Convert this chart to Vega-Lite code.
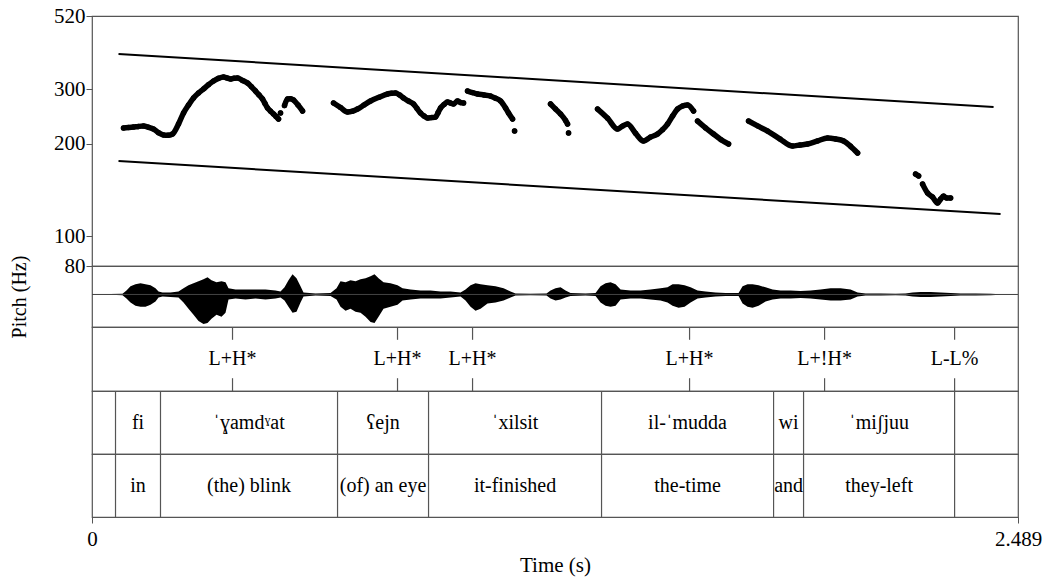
{
  "$schema": "https://vega.github.io/schema/vega-lite/v6.json",
  "background": "white",
  "padding": {"left": 8, "top": 4, "right": 0, "bottom": 2},
  "spacing": 0,
  "bounds": "flush",
  "config": {
    "view": {"stroke": "#555", "strokeWidth": 1.2},
    "font": "Liberation Serif",
    "text": {"font": "Liberation Serif"},
    "axis": {"labelFont": "Liberation Serif", "titleFont": "Liberation Serif", "labelColor": "black", "titleColor": "black", "titleFontWeight": "normal", "grid": false}
  },
  "datasets": {
    "decl": [
      {"line": "top", "t": 0.0712, "hz": 391.2},
      {"line": "top", "t": 2.4234, "hz": 263.0},
      {"line": "bottom", "t": 0.0712, "hz": 175.5},
      {"line": "bottom", "t": 2.4422, "hz": 118}
    ],
    "pitch": [
      {"seg": "1", "t": 0.0847, "hz": 224.7}, {"seg": "1", "t": 0.0981, "hz": 225.5}, {"seg": "1", "t": 0.1116, "hz": 226.4}, {"seg": "1", "t": 0.125, "hz": 227.5}, {"seg": "1", "t": 0.1384, "hz": 228.1}, {"seg": "1", "t": 0.1519, "hz": 226}, {"seg": "1", "t": 0.1653, "hz": 223.0}, {"seg": "1", "t": 0.1788, "hz": 217}, {"seg": "1", "t": 0.1922, "hz": 213.3}, {"seg": "1", "t": 0.2043, "hz": 213}, {"seg": "1", "t": 0.2164, "hz": 214.9}, {"seg": "1", "t": 0.2325, "hz": 231.6}, {"seg": "1", "t": 0.246, "hz": 251.5}, {"seg": "1", "t": 0.2594, "hz": 267}, {"seg": "1", "t": 0.2728, "hz": 281.4}, {"seg": "1", "t": 0.2863, "hz": 292}, {"seg": "1", "t": 0.2997, "hz": 301.0}, {"seg": "1", "t": 0.3132, "hz": 311}, {"seg": "1", "t": 0.3266, "hz": 319.6}, {"seg": "1", "t": 0.34, "hz": 326}, {"seg": "1", "t": 0.3535, "hz": 329.3}, {"seg": "1", "t": 0.3629, "hz": 327}, {"seg": "1", "t": 0.3723, "hz": 324.4}, {"seg": "1", "t": 0.3817, "hz": 326.5}, {"seg": "1", "t": 0.3911, "hz": 326.8}, {"seg": "1", "t": 0.4046, "hz": 321}, {"seg": "1", "t": 0.418, "hz": 314.8}, {"seg": "1", "t": 0.4288, "hz": 306}, {"seg": "1", "t": 0.4395, "hz": 296.5}, {"seg": "1", "t": 0.4489, "hz": 288}, {"seg": "1", "t": 0.4583, "hz": 279.3}, {"seg": "1", "t": 0.465, "hz": 270}, {"seg": "1", "t": 0.4718, "hz": 261.1}, {"seg": "1", "t": 0.4799, "hz": 255}, {"seg": "1", "t": 0.4879, "hz": 249.6}, {"seg": "1", "t": 0.4946, "hz": 245}, {"seg": "1", "t": 0.5013, "hz": 240.4},
      {"seg": "2a", "t": 0.5067, "hz": 251.5},
      {"seg": "2", "t": 0.5175, "hz": 266}, {"seg": "2", "t": 0.5255, "hz": 279.3}, {"seg": "2", "t": 0.5336, "hz": 280}, {"seg": "2", "t": 0.5417, "hz": 277.2}, {"seg": "2", "t": 0.5538, "hz": 267}, {"seg": "2", "t": 0.5659, "hz": 255.3},
      {"seg": "3", "t": 0.6492, "hz": 271.0}, {"seg": "3", "t": 0.668, "hz": 262}, {"seg": "3", "t": 0.6868, "hz": 253.4}, {"seg": "3", "t": 0.7003, "hz": 255}, {"seg": "3", "t": 0.7137, "hz": 259.1}, {"seg": "3", "t": 0.7312, "hz": 267}, {"seg": "3", "t": 0.7487, "hz": 275.1}, {"seg": "3", "t": 0.7716, "hz": 283}, {"seg": "3", "t": 0.7944, "hz": 289.9}, {"seg": "3", "t": 0.8051, "hz": 291.5}, {"seg": "3", "t": 0.8159, "hz": 292.1}, {"seg": "3", "t": 0.8266, "hz": 288}, {"seg": "3", "t": 0.8374, "hz": 281.4}, {"seg": "3", "t": 0.8508, "hz": 275}, {"seg": "3", "t": 0.8642, "hz": 269.0}, {"seg": "3", "t": 0.8737, "hz": 260}, {"seg": "3", "t": 0.8831, "hz": 251.5}, {"seg": "3", "t": 0.8925, "hz": 246}, {"seg": "3", "t": 0.9019, "hz": 242.2}, {"seg": "3", "t": 0.9127, "hz": 243}, {"seg": "3", "t": 0.9234, "hz": 244.0}, {"seg": "3", "t": 0.9301, "hz": 252}, {"seg": "3", "t": 0.9368, "hz": 261.1}, {"seg": "3", "t": 0.9462, "hz": 268}, {"seg": "3", "t": 0.9556, "hz": 273.0}, {"seg": "3", "t": 0.9637, "hz": 271}, {"seg": "3", "t": 0.9718, "hz": 269.0}, {"seg": "3", "t": 0.9825, "hz": 275.1}, {"seg": "3", "t": 0.9906, "hz": 272}, {"seg": "3", "t": 0.9987, "hz": 271.0},
      {"seg": "4", "t": 1.0094, "hz": 296.5}, {"seg": "4", "t": 1.0228, "hz": 293}, {"seg": "4", "t": 1.0363, "hz": 289.9}, {"seg": "4", "t": 1.0537, "hz": 288}, {"seg": "4", "t": 1.0712, "hz": 285.6}, {"seg": "4", "t": 1.0847, "hz": 281}, {"seg": "4", "t": 1.0981, "hz": 275.1}, {"seg": "4", "t": 1.1116, "hz": 261.1}, {"seg": "4", "t": 1.1196, "hz": 251.5}, {"seg": "4", "t": 1.1304, "hz": 240.4},
      {"seg": "4b", "t": 1.1358, "hz": 219.7},
      {"seg": "5", "t": 1.2325, "hz": 269.0}, {"seg": "5", "t": 1.246, "hz": 259}, {"seg": "5", "t": 1.2594, "hz": 249.6}, {"seg": "5", "t": 1.2728, "hz": 238}, {"seg": "5", "t": 1.2782, "hz": 231.6},
      {"seg": "5b", "t": 1.2809, "hz": 216.5},
      {"seg": "6", "t": 1.3589, "hz": 259.1}, {"seg": "6", "t": 1.3858, "hz": 242}, {"seg": "6", "t": 1.4126, "hz": 223.0}, {"seg": "6", "t": 1.4261, "hz": 228}, {"seg": "6", "t": 1.4395, "hz": 231.6}, {"seg": "6", "t": 1.461, "hz": 216}, {"seg": "6", "t": 1.4825, "hz": 203.9}, {"seg": "6", "t": 1.5013, "hz": 210}, {"seg": "6", "t": 1.5202, "hz": 214.9}, {"seg": "6", "t": 1.5336, "hz": 222}, {"seg": "6", "t": 1.547, "hz": 231.6}, {"seg": "6", "t": 1.5605, "hz": 246}, {"seg": "6", "t": 1.5739, "hz": 259.1}, {"seg": "6", "t": 1.5874, "hz": 265}, {"seg": "6", "t": 1.6008, "hz": 267.0}, {"seg": "6", "t": 1.6169, "hz": 255.3},
      {"seg": "7", "t": 1.6277, "hz": 236.8}, {"seg": "7", "t": 1.6492, "hz": 225}, {"seg": "7", "t": 1.6707, "hz": 214.9}, {"seg": "7", "t": 1.6909, "hz": 206}, {"seg": "7", "t": 1.711, "hz": 199.4},
      {"seg": "8", "t": 1.7648, "hz": 236.8}, {"seg": "8", "t": 1.7903, "hz": 228}, {"seg": "8", "t": 1.8159, "hz": 219.7}, {"seg": "8", "t": 1.8495, "hz": 207}, {"seg": "8", "t": 1.8831, "hz": 196.4}, {"seg": "8", "t": 1.9032, "hz": 198}, {"seg": "8", "t": 1.9234, "hz": 199.4}, {"seg": "8", "t": 1.9503, "hz": 204}, {"seg": "8", "t": 1.9772, "hz": 208.5}, {"seg": "8", "t": 1.9987, "hz": 207}, {"seg": "8", "t": 2.0202, "hz": 203.9}, {"seg": "8", "t": 2.039, "hz": 196}, {"seg": "8", "t": 2.0578, "hz": 186.4},
      {"seg": "9", "t": 2.2137, "hz": 159.2}, {"seg": "9", "t": 2.2218, "hz": 157}, {"seg": "9b", "t": 2.2325, "hz": 147.7}, {"seg": "9b", "t": 2.246, "hz": 138.1}, {"seg": "9b", "t": 2.2594, "hz": 134}, {"seg": "9b", "t": 2.2728, "hz": 128.1}, {"seg": "9b", "t": 2.2809, "hz": 132}, {"seg": "9b", "t": 2.289, "hz": 135.0}, {"seg": "9b", "t": 2.297, "hz": 133}, {"seg": "9b", "t": 2.3078, "hz": 133.0}
    ],
    "wave": [
      {"t": 0.0013, "hi": 0.3, "lo": -0.3}, {"t": 0.0497, "hi": 0.4, "lo": -0.4}, {"t": 0.082, "hi": 0.8, "lo": -0.8}, {"t": 0.0927, "hi": 4, "lo": -4}, {"t": 0.1035, "hi": 8, "lo": -8}, {"t": 0.1169, "hi": 10, "lo": -11}, {"t": 0.1304, "hi": 11, "lo": -12}, {"t": 0.1438, "hi": 10, "lo": -12}, {"t": 0.1573, "hi": 9, "lo": -10}, {"t": 0.1707, "hi": 6, "lo": -7}, {"t": 0.1788, "hi": 3, "lo": -3}, {"t": 0.1895, "hi": 2, "lo": -2}, {"t": 0.211, "hi": 2, "lo": -2.5}, {"t": 0.2325, "hi": 3, "lo": -3}, {"t": 0.246, "hi": 6, "lo": -8}, {"t": 0.2594, "hi": 9, "lo": -14}, {"t": 0.2729, "hi": 11, "lo": -20}, {"t": 0.2863, "hi": 13, "lo": -26}, {"t": 0.2997, "hi": 15, "lo": -29}, {"t": 0.3105, "hi": 17, "lo": -28}, {"t": 0.3212, "hi": 14, "lo": -24}, {"t": 0.3347, "hi": 12, "lo": -20}, {"t": 0.3481, "hi": 13, "lo": -22}, {"t": 0.3589, "hi": 12, "lo": -18}, {"t": 0.3669, "hi": 6, "lo": -5}, {"t": 0.3858, "hi": 5, "lo": -4}, {"t": 0.4126, "hi": 5, "lo": -5}, {"t": 0.4395, "hi": 5, "lo": -4}, {"t": 0.4664, "hi": 5, "lo": -5}, {"t": 0.4933, "hi": 4, "lo": -4}, {"t": 0.5067, "hi": 3, "lo": -3}, {"t": 0.5175, "hi": 7, "lo": -6}, {"t": 0.5282, "hi": 14, "lo": -12}, {"t": 0.539, "hi": 20, "lo": -18}, {"t": 0.5497, "hi": 16, "lo": -17}, {"t": 0.5605, "hi": 8, "lo": -8}, {"t": 0.5685, "hi": 2, "lo": -2}, {"t": 0.6008, "hi": 1, "lo": -1}, {"t": 0.6411, "hi": 1.5, "lo": -1.5}, {"t": 0.6573, "hi": 6, "lo": -5}, {"t": 0.668, "hi": 13, "lo": -12}, {"t": 0.6815, "hi": 12, "lo": -16}, {"t": 0.6949, "hi": 14, "lo": -14}, {"t": 0.7083, "hi": 13, "lo": -17}, {"t": 0.7218, "hi": 15, "lo": -18}, {"t": 0.7352, "hi": 16, "lo": -22}, {"t": 0.7487, "hi": 18, "lo": -27}, {"t": 0.7594, "hi": 20, "lo": -28}, {"t": 0.7702, "hi": 16, "lo": -22}, {"t": 0.7836, "hi": 12, "lo": -14}, {"t": 0.8024, "hi": 11, "lo": -12}, {"t": 0.8212, "hi": 9, "lo": -10}, {"t": 0.8347, "hi": 6, "lo": -6}, {"t": 0.8562, "hi": 5, "lo": -5}, {"t": 0.8831, "hi": 4, "lo": -4}, {"t": 0.9099, "hi": 4, "lo": -4}, {"t": 0.9368, "hi": 3, "lo": -4}, {"t": 0.9637, "hi": 3, "lo": -3}, {"t": 0.9906, "hi": 2, "lo": -2}, {"t": 1.004, "hi": 5, "lo": -6}, {"t": 1.0175, "hi": 9, "lo": -12}, {"t": 1.0309, "hi": 11, "lo": -16}, {"t": 1.0444, "hi": 10, "lo": -14}, {"t": 1.0632, "hi": 9, "lo": -9}, {"t": 1.0847, "hi": 8, "lo": -8}, {"t": 1.1062, "hi": 6, "lo": -6}, {"t": 1.125, "hi": 3, "lo": -3}, {"t": 1.1384, "hi": 1, "lo": -1}, {"t": 1.1788, "hi": 0.8, "lo": -0.8}, {"t": 1.2218, "hi": 1, "lo": -1}, {"t": 1.2325, "hi": 4, "lo": -4}, {"t": 1.246, "hi": 6, "lo": -6}, {"t": 1.2594, "hi": 7, "lo": -5}, {"t": 1.2728, "hi": 4, "lo": -3}, {"t": 1.2863, "hi": 1.5, "lo": -1.5}, {"t": 1.3266, "hi": 1, "lo": -1}, {"t": 1.3535, "hi": 1.5, "lo": -1.5}, {"t": 1.3669, "hi": 8, "lo": -8}, {"t": 1.3804, "hi": 11, "lo": -11}, {"t": 1.3938, "hi": 12, "lo": -12}, {"t": 1.4073, "hi": 10, "lo": -11}, {"t": 1.4207, "hi": 5, "lo": -5}, {"t": 1.4476, "hi": 4, "lo": -4}, {"t": 1.4745, "hi": 4, "lo": -4}, {"t": 1.5013, "hi": 5, "lo": -5}, {"t": 1.5282, "hi": 6, "lo": -6}, {"t": 1.547, "hi": 7, "lo": -8}, {"t": 1.5605, "hi": 10, "lo": -11}, {"t": 1.5766, "hi": 10, "lo": -13}, {"t": 1.5927, "hi": 9, "lo": -12}, {"t": 1.6089, "hi": 7, "lo": -8}, {"t": 1.6277, "hi": 4, "lo": -4}, {"t": 1.6492, "hi": 3, "lo": -3}, {"t": 1.6761, "hi": 2, "lo": -2}, {"t": 1.703, "hi": 1.5, "lo": -1.5}, {"t": 1.7379, "hi": 1.5, "lo": -1.5}, {"t": 1.7487, "hi": 8, "lo": -9}, {"t": 1.7621, "hi": 10, "lo": -12}, {"t": 1.7755, "hi": 10, "lo": -13}, {"t": 1.7917, "hi": 9, "lo": -11}, {"t": 1.8105, "hi": 7, "lo": -7}, {"t": 1.8293, "hi": 5, "lo": -5}, {"t": 1.8508, "hi": 4, "lo": -4}, {"t": 1.8777, "hi": 4, "lo": -4}, {"t": 1.9046, "hi": 3.5, "lo": -3.5}, {"t": 1.9315, "hi": 4, "lo": -4}, {"t": 1.9584, "hi": 5, "lo": -5}, {"t": 1.9852, "hi": 6, "lo": -6}, {"t": 2.0121, "hi": 6, "lo": -6}, {"t": 2.039, "hi": 5, "lo": -5}, {"t": 2.0578, "hi": 2, "lo": -2}, {"t": 2.0793, "hi": 1, "lo": -1}, {"t": 2.1196, "hi": 1, "lo": -1}, {"t": 2.16, "hi": 0.8, "lo": -0.8}, {"t": 2.1868, "hi": 1, "lo": -1}, {"t": 2.2056, "hi": 2, "lo": -2}, {"t": 2.2272, "hi": 2.5, "lo": -2.5}, {"t": 2.254, "hi": 2.5, "lo": -2.5}, {"t": 2.2809, "hi": 2, "lo": -2}, {"t": 2.3078, "hi": 1.5, "lo": -1.5}, {"t": 2.3347, "hi": 1, "lo": -1}, {"t": 2.375, "hi": 1, "lo": -1}, {"t": 2.4153, "hi": 0.8, "lo": -0.8}, {"t": 2.4422, "hi": 0.3, "lo": -0.3}, {"t": 2.4852, "hi": 0.3, "lo": -0.3}
    ],
    "tones": [
      {"t": 0.3777, "label": "L+H*"}, {"t": 0.8212, "label": "L+H*"}, {"t": 1.0229, "label": "L+H*"}, {"t": 1.6062, "label": "L+H*"}, {"t": 1.9691, "label": "L+!H*"}, {"t": 2.3186, "label": "L-L%"}
    ],
    "bounds": [
      {"t": 0.0632}, {"t": 0.1841}, {"t": 0.66}, {"t": 0.9046}, {"t": 1.3696}, {"t": 1.832}, {"t": 1.9126}, {"t": 2.3186}
    ],
    "words": [
      {"t": 0.1237, "word": "fi", "gloss": "in"},
      {"t": 0.422, "word": "ˈɣamdˠat", "gloss": "(the) blink"},
      {"t": 0.7823, "word": "ʕejn", "gloss": "(of) an eye"},
      {"t": 1.1371, "word": "ˈxilsit", "gloss": "it-finished"},
      {"t": 1.6008, "word": "il-ˈmudda", "gloss": "the-time"},
      {"t": 1.8723, "word": "wi", "gloss": "and"},
      {"t": 2.1156, "word": "ˈmiʃjuu", "gloss": "they-left"}
    ]
  },
  "vconcat": [
    {
      "width": 926,
      "height": 250,
      "encoding": {
        "x": {"field": "t", "type": "quantitative", "scale": {"domain": [0, 2.489], "nice": false, "zero": false}, "axis": null},
        "y": {"field": "hz", "type": "quantitative", "scale": {"type": "log", "domain": [80, 520], "nice": false}, "axis": {"values": [80, 100, 200, 300, 520], "labelExpr": "'' + datum.value", "labelOverlap": false, "title": null, "tickSize": 6, "tickColor": "#555", "domain": false, "labelFont": "Liberation Serif", "labelFontSize": 21, "labelPadding": 1}}
      },
      "layer": [
        {"data": {"name": "decl"}, "mark": {"type": "line", "color": "black", "strokeWidth": 2}, "encoding": {"detail": {"field": "line"}}},
        {"data": {"name": "pitch"}, "mark": {"type": "line", "color": "black", "strokeWidth": 5.5, "interpolate": "monotone", "strokeCap": "round", "strokeJoin": "round"}, "encoding": {"detail": {"field": "seg"}}},
        {"data": {"name": "pitch"}, "mark": {"type": "circle", "color": "black", "size": 30, "opacity": 1}, "encoding": {}}
      ]
    },
    {
      "width": 926,
      "height": 61,
      "layer": [
        {"data": {"name": "wave"}, "mark": {"type": "area", "color": "black", "interpolate": "linear"}, "encoding": {
          "x": {"field": "t", "type": "quantitative", "scale": {"domain": [0, 2.489], "nice": false, "zero": false}, "axis": null},
          "y": {"field": "hi", "type": "quantitative", "scale": {"domain": [-32, 28], "nice": false, "zero": false}, "axis": {"title": "Pitch (Hz)", "labels": false, "ticks": false, "domain": false, "titleFont": "Liberation Serif", "titleFontSize": 20, "titlePadding": 63}},
          "y2": {"field": "lo"}
        }},
        {"data": {"values": [{}]}, "mark": {"type": "rule", "color": "#444", "strokeWidth": 1}, "encoding": {"y": {"datum": 0, "type": "quantitative"}}}
      ]
    },
    {
      "width": 926,
      "height": 64,
      "data": {"name": "tones"},
      "encoding": {
        "x": {"field": "t", "type": "quantitative", "scale": {"domain": [0, 2.489], "nice": false, "zero": false}, "axis": null}
      },
      "layer": [
        {"mark": {"type": "rule", "color": "#555", "strokeWidth": 1.2}, "encoding": {"y": {"datum": 1, "type": "quantitative", "scale": {"domain": [0, 1], "nice": false}, "axis": null}, "y2": {"datum": 0.8}}},
        {"mark": {"type": "rule", "color": "#555", "strokeWidth": 1.2}, "encoding": {"y": {"datum": 0.2, "type": "quantitative"}, "y2": {"datum": 0}}},
        {"mark": {"type": "text", "font": "Liberation Serif", "fontSize": 20, "color": "black", "baseline": "middle", "align": "center"}, "encoding": {"y": {"datum": 0.5, "type": "quantitative"}, "text": {"field": "label"}}}
      ]
    },
    {
      "width": 926,
      "height": 63,
      "encoding": {
        "x": {"field": "t", "type": "quantitative", "scale": {"domain": [0, 2.489], "nice": false, "zero": false}, "axis": null}
      },
      "layer": [
        {"data": {"name": "bounds"}, "mark": {"type": "rule", "color": "#555", "strokeWidth": 1.2}, "encoding": {}},
        {"data": {"name": "words"}, "mark": {"type": "text", "font": "Liberation Serif", "fontSize": 20, "color": "black", "baseline": "middle", "align": "center"}, "encoding": {"y": {"datum": 0.5, "type": "quantitative", "scale": {"domain": [0, 1]}, "axis": null}, "text": {"field": "word"}}}
      ]
    },
    {
      "width": 926,
      "height": 63,
      "encoding": {
        "x": {"field": "t", "type": "quantitative", "scale": {"domain": [0, 2.489], "nice": false, "zero": false}, "axis": {"values": [0, 2.489], "labelExpr": "datum.value == 0 ? '0' : '2.489'", "title": "Time (s)", "tickSize": 6, "tickColor": "#555", "domain": false, "labelFont": "Liberation Serif", "titleFont": "Liberation Serif", "labelFontSize": 21, "titleFontSize": 21, "labelPadding": 5, "titlePadding": 5, "labelFlush": false}}
      },
      "layer": [
        {"data": {"name": "bounds"}, "mark": {"type": "rule", "color": "#555", "strokeWidth": 1.2}, "encoding": {}},
        {"data": {"name": "words"}, "mark": {"type": "text", "font": "Liberation Serif", "fontSize": 20, "color": "black", "baseline": "middle", "align": "center"}, "encoding": {"y": {"datum": 0.5, "type": "quantitative", "scale": {"domain": [0, 1]}, "axis": null}, "text": {"field": "gloss"}}}
      ]
    }
  ]
}
